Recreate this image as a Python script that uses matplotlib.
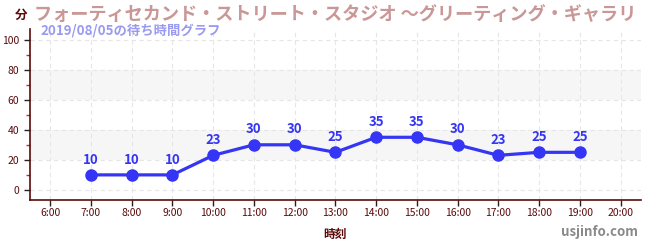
import matplotlib
matplotlib.use("Agg")
import matplotlib.pyplot as plt
from matplotlib.ticker import MultipleLocator

plt.rcParams["font.family"] = ["Noto Sans CJK JP", "DejaVu Sans"]

HOURS = [7, 8, 9, 10, 11, 12, 13, 14, 15, 16, 17, 18, 19]
WAIT_MIN = [10, 10, 10, 23, 30, 30, 25, 35, 35, 30, 23, 25, 25]
TICK_HOURS = list(range(6, 21))
TICK_LABELS = [f"{h}:00" for h in TICK_HOURS]
# title as far as it is visible in the source image
TITLE = "フォーティセカンド・ストリート・スタジオ ～グリーティング・ギャラリ"
SUBTITLE = "2019/08/05の待ち時間グラフ"

DARK_RED = "#5a0a0a"
BLUE = "#3535f5"

fig = plt.figure(figsize=(6.5, 2.5), dpi=100)
ax = fig.add_axes([0.046, 0.2, 0.94, 0.684])

ax.set_xlim(5.5, 20.5)
ax.set_ylim(-6.7, 107)

for lo, hi in [(20, 40), (60, 80)]:
    ax.axhspan(lo, hi, color="#f6f6f6", zorder=0, lw=0)

ax.set_xticks(TICK_HOURS)
ax.set_xticklabels(TICK_LABELS)
ax.set_yticks([0, 20, 40, 60, 80, 100])
ax.yaxis.set_minor_locator(MultipleLocator(10))
ax.grid(True, which="major", color="#e6e6e6", ls=(0, (4, 3)), lw=0.8, zorder=1)

ax.plot(HOURS, WAIT_MIN, color=BLUE, lw=2.3, marker="o", ms=8, zorder=3)
for h, v in zip(HOURS, WAIT_MIN):
    ax.annotate(str(v), (h, v), xytext=(0, 6), textcoords="offset points",
                ha="center", va="bottom", color=BLUE, fontsize=9.5,
                fontweight="bold")

for side in ["top", "right"]:
    ax.spines[side].set_visible(False)
for side in ["left", "bottom"]:
    ax.spines[side].set_color(DARK_RED)
    ax.spines[side].set_linewidth(1.2)

ax.tick_params(axis="both", which="major", labelsize=7.5, labelcolor=DARK_RED,
               color="#222222", length=4, width=1)
ax.tick_params(axis="y", which="minor", color="#e02020", length=3, width=1)
ax.tick_params(axis="x", pad=2)

ax.set_xlabel("時刻", fontsize=8.5, fontweight="bold", color=DARK_RED, labelpad=7)

fig.text(0.023, 0.94, "分", fontsize=9, fontweight="bold", color=DARK_RED,
         ha="left", va="center")
fig.text(0.053, 0.942, TITLE, fontsize=13.1, fontweight="bold", color="#c99797",
         ha="left", va="center")
fig.text(0.062, 0.878, SUBTITLE, fontsize=9.6, fontweight="bold", color="#9a9af0",
         ha="left", va="center")
fig.text(0.982, 0.072, "usjinfo.com", fontsize=9.5, fontweight="bold",
         color="#8a8a8a", ha="right", va="center")

fig.savefig("out.png", dpi=100)
